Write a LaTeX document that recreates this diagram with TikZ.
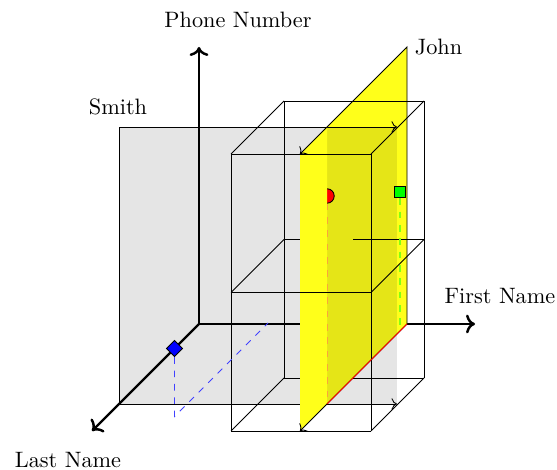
\documentclass[tikz,border=0pt]{standalone}
\usepackage{tikz}
\usetikzlibrary{arrows.meta, shapes.geometric}
\definecolor{johnyellow}{RGB}{255,255,26}
\definecolor{reddrop}{RGB}{250,165,60}
\definecolor{greendrop}{RGB}{130,255,20}
\begin{document}
\begin{tikzpicture}[
    x={(0.449pt,0pt)}, y={(0pt,0.449pt)}, z={(-0.449pt,-0.449pt)},
    axis/.style={->, line width=1.1pt},
    edge/.style={line width=0.4pt},
    border/.style={<->, line width=0.4pt},
    johnfill/.style={fill=johnyellow},
    smithfill/.style={fill=black, fill opacity=0.1},
    redpt/.style={circle, draw, fill=red, inner sep=0pt, minimum size=6.5pt},
    greenpt/.style={rectangle, draw, fill=green, inner sep=0pt, minimum size=5.2pt},
    bluept/.style={diamond, draw, fill=blue, inner sep=0pt, minimum size=7.4pt}
  ]
    \useasboundingbox (-199,-146) rectangle (358,324);

    % axes
    \coordinate (O) at (0,0,0);
    \coordinate (phoneEnd) at (0,277,0);
    \coordinate (firstEnd) at (276,0,0);
    \coordinate (lastEnd) at (0,0,107);
    \draw[axis] (O) -- (phoneEnd);
    \draw[axis] (O) -- (firstEnd);
    \draw[axis] (O) -- (lastEnd);

    % box, parts behind the John plane
    \foreach \h in {0,138.5,277} {
      \draw[edge] (139,\h,54) -- (208,\h,54);
      \draw[edge] (139,\h,107) -- (139,\h,54);
    }
    \draw[edge] (139,0,54) -- (139,277,54);
    \draw[edge] (139,0,107) -- (139,277,107);

    % John plane, back part
    \coordinate (johnA) at (208,277,107);
    \coordinate (johnB) at (208,277,0);
    \coordinate (johnC) at (208,0,0);
    \coordinate (johnD) at (208,0,107);
    \fill[johnfill] (johnC) -- (johnB) -- (208,277,80) -- (208,0,80) -- cycle;

    % Smith plane
    \coordinate (smithA) at (278,277,80);
    \coordinate (smithB) at (0,277,80);
    \coordinate (smithC) at (0,0,80);
    \coordinate (smithD) at (278,0,80);
    \fill[smithfill] (smithA) -- (smithB) -- (smithC) -- (smithD) -- cycle;
    \draw[border] (smithA) -- (smithB) -- (smithC) -- (smithD);

    \node[redpt] (redPt) at (208,208,80) {};

    % John plane, front part
    \fill[johnfill] (208,0,80) -- (208,277,80) -- (johnA) -- (johnD) -- cycle;
    \draw[border] (johnA) -- (johnB) -- (johnC) -- (johnD);

    % box, parts in front
    \foreach \h in {0,138.5,277} {
      \draw[edge] (208,\h,54) -- (279,\h,54);
      \draw[edge] (139,\h,107) -- (279,\h,107);
      \draw[edge] (279,\h,107) -- (279,\h,54);
    }
    \draw[edge] (279,0,54) -- (279,277,54);
    \draw[edge] (279,0,107) -- (279,277,107);

    % projections
    \coordinate (redFoot) at (208,0,80);
    \draw[reddrop, dashed] (redPt) -- (redFoot);
    \draw[red] (redFoot) -- (johnC);

    \node[greenpt] (greenPt) at (208,139,7) {};
    \coordinate (greenFoot) at (208,0,7);
    \draw[greendrop, dashed, line width=0.6pt] (greenPt) -- (greenFoot);

    \node[bluept] (bluePt) at (0,0,24.5) {};
    \coordinate (blueFoot) at (0,-68,24.5);
    \coordinate (blueEnd) at (0,-68,-69);
    \draw[blue!75, dashed] (bluePt) -- (blueFoot) -- (blueEnd);

    % labels
    \node (phoneLbl) at (39,304) {Phone Number};
    \node[right] (johnLbl) at (johnB) {John};
    \node (smithLbl) at (-81,217) {Smith};
    \node (firstLbl) at (301,28) {First Name};
    \node (lastLbl) at (-131,-136) {Last Name};
\end{tikzpicture}
\end{document}
